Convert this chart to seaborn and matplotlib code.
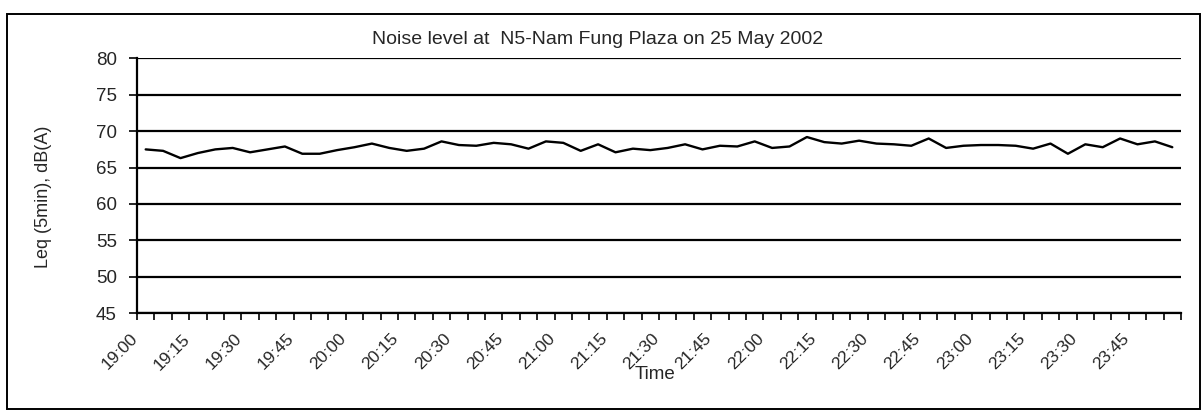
import numpy as np
import pandas as pd
import matplotlib
matplotlib.use("Agg")
import matplotlib.pyplot as plt
import matplotlib.transforms as mtransforms
import seaborn as sns
from matplotlib.patches import Rectangle

# 5-minute Leq readings, 19:00 - 23:55
times = [f"{h}:{m:02d}" for h in range(19, 24) for m in range(0, 60, 5)]
leq = [67.5, 67.3, 66.3, 67.0, 67.5, 67.7, 67.1, 67.5, 67.9, 66.9,
       66.9, 67.4, 67.8, 68.3, 67.7, 67.3, 67.6, 68.6, 68.1, 68.0,
       68.4, 68.2, 67.6, 68.6, 68.4, 67.3, 68.2, 67.1, 67.6, 67.4,
       67.7, 68.2, 67.5, 68.0, 67.9, 68.6, 67.7, 67.9, 69.2, 68.5,
       68.3, 68.7, 68.3, 68.2, 68.0, 69.0, 67.7, 68.0, 68.1, 68.1,
       68.0, 67.6, 68.3, 66.9, 68.2, 67.8, 69.0, 68.2, 68.6, 67.8]
y_ticks = [45, 50, 55, 60, 65, 70, 75, 80]
label_every = 3

title = "Noise level at  N5-Nam Fung Plaza on 25 May 2002"
xlabel = "Time"
ylabel = "Leq (5min), dB(A)"

df = pd.DataFrame({"time": times, "leq": leq})
df["pos"] = np.arange(len(df))

sns.set_style("white")
plt.rcParams["font.family"] = ["Liberation Sans", "DejaVu Sans"]

W, H = 1202, 411
fig = plt.figure(figsize=(W / 100, H / 100), dpi=100)
left, right, top, bottom = 137, 1181, 58.5, 313
ax = fig.add_axes([left / W, 1 - bottom / H, (right - left) / W, (bottom - top) / H])

# horizontal grid lines
for v in y_ticks:
    ax.axhline(v, color="black", lw=1.6, zorder=1)

sns.lineplot(data=df, x="pos", y="leq", ax=ax, color="black", lw=1.7, zorder=3)

n = len(times)
ax.set_xlim(-0.5, n - 0.5)
ax.set_ylim(45, 80)
ax.set_yticks(y_ticks)
ax.tick_params(axis="y", length=6, width=1.2, direction="out", color="black",
               labelsize=13.5, pad=8.5, left=True)

ax.set_xticks(df["pos"][::label_every])
ax.set_xticklabels(df["time"][::label_every], rotation=45, ha="right",
                   rotation_mode="anchor", fontsize=12.5)
ax.set_xticks(np.arange(n + 1) - 0.5, minor=True)
ax.tick_params(axis="x", which="major", length=0, pad=13)
ax.tick_params(axis="x", which="minor", length=5, width=1.2, direction="out",
               color="black", bottom=True)
shift = mtransforms.ScaledTranslation(-16 / 100, 0, fig.dpi_scale_trans)
for lab in ax.get_xticklabels():
    lab.set_transform(lab.get_transform() + shift)

for s in ["top", "right"]:
    ax.spines[s].set_visible(False)
for s in ["left", "bottom"]:
    ax.spines[s].set_color("black")
    ax.spines[s].set_linewidth(1.6)

ax.set_xlabel("")
ax.set_ylabel("")
fig.text(655 / W, 1 - 374 / H, xlabel, ha="center", va="center", fontsize=13.5)
fig.text(43 / W, 1 - 197 / H, ylabel, ha="center", va="center",
         rotation=90, fontsize=13)
fig.text(598 / W, 1 - 40 / H, title, ha="center", va="center", fontsize=14)

# chart area frame
fig.patches.append(Rectangle((7 / W, 2 / H), 1193 / W, 395 / H,
                             transform=fig.transFigure, fill=False,
                             edgecolor="black", lw=1.4))

fig.savefig("out.png", dpi=100, facecolor="white")
